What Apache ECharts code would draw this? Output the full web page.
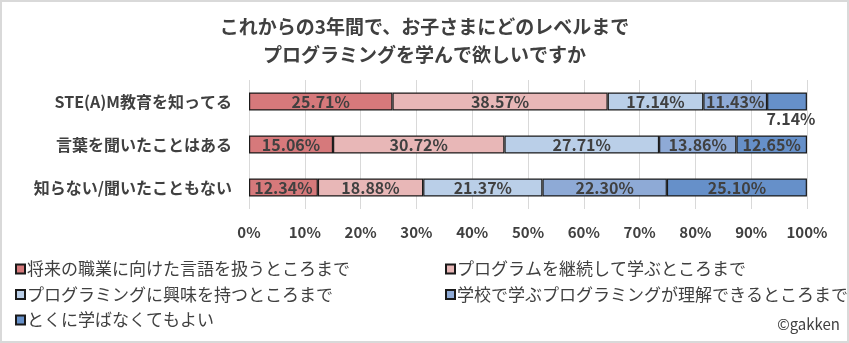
<!DOCTYPE html>
<html>
<head>
<meta charset="utf-8">
<script src="https://cdn.jsdelivr.net/npm/echarts@6/dist/echarts.min.js"></script>
<style>
html,body{margin:0;padding:0;background:#fff;}
#chart{width:849px;height:343px;}
</style>
</head>
<body>
<div id="chart"></div>
<script>
const titleText = 'これからの3年間で、お子さまにどのレベルまで\nプログラミングを学んで欲しいですか';
const categories = ['STE(A)M教育を知ってる', '言葉を聞いたことはある', '知らない/聞いたこともない'];
const seriesNames = [
  '将来の職業に向けた言語を扱うところまで',
  'プログラムを継続して学ぶところまで',
  'プログラミングに興味を持つところまで',
  '学校で学ぶプログラミングが理解できるところまで',
  'とくに学ばなくてもよい'
];
const s1 = [25.71, 15.06, 12.34];
const s2 = [38.57, 30.72, 18.88];
const s3 = [17.14, 27.71, 21.37];
const s4 = [11.43, 13.86, 22.30];
const s5 = [7.14, 12.65, 25.10];
const seriesValues = [s1, s2, s3, s4, s5];
const colors = ['#d6797b', '#e8b7b7', '#bacfe8', '#8eaad6', '#6690c9'];
const credit = '©gakken';

const FONT = '"Noto Sans CJK JP", "Noto Sans", sans-serif';
const TXT = '#404040';

const chart = echarts.init(document.getElementById('chart'), null, {renderer: 'canvas'});

const series = seriesValues.map((vals, i) => ({
  name: seriesNames[i],
  type: 'bar',
  stack: 'total',
  barWidth: 18,
  itemStyle: {color: colors[i], borderColor: '#1a1a1a', borderWidth: 1.2},
  label: {
    show: true,
    position: 'inside',
    color: TXT,
    fontFamily: FONT,
    fontWeight: 'bold',
    fontSize: 16,
    formatter: p => p.value.toFixed(2) + '%'
  },
  data: vals.map((v, j) => {
    if (i === 4 && j === 0) {
      return {value: v, label: {position: 'bottom', distance: 0, offset: [4, 0]}};
    }
    return v;
  }),
  emphasis: {disabled: true}
}));

const option = {
  animation: false,
  backgroundColor: '#fff',
  title: {
    text: titleText,
    left: 'center',
    top: 8,
    textStyle: {fontFamily: FONT, fontSize: 19, fontWeight: 'bold', color: TXT, lineHeight: 28}
  },
  grid: {left: 249, right: 42, top: 80, bottom: 134, containLabel: false},
  xAxis: {
    type: 'value',
    min: 0, max: 100, interval: 10,
    axisLine: {show: false},
    axisTick: {show: false},
    splitLine: {show: true, lineStyle: {color: '#d9d9d9', width: 1}},
    axisLabel: {formatter: '{value}%', color: TXT, fontFamily: FONT, fontWeight: 'bold', fontSize: 15, margin: 16}
  },
  yAxis: {
    type: 'category',
    inverse: true,
    data: categories,
    axisLine: {show: false},
    axisTick: {show: false},
    axisLabel: {color: TXT, fontFamily: FONT, fontWeight: 'bold', fontSize: 16, margin: 17}
  },
  legend: [
    {
      data: [seriesNames[0], seriesNames[2], seriesNames[4]],
      orient: 'vertical',
      left: 10, top: 255,
      icon: 'rect', itemWidth: 9, itemHeight: 9, itemGap: 7.5,
      textStyle: {color: TXT, fontFamily: FONT, fontSize: 17, lineHeight: 18, padding: [0, 0, 0, -3]},
      selectedMode: false
    },
    {
      data: [seriesNames[1], seriesNames[3]],
      orient: 'vertical',
      left: 440, top: 255,
      icon: 'rect', itemWidth: 9, itemHeight: 9, itemGap: 7.5,
      textStyle: {color: TXT, fontFamily: FONT, fontSize: 17, lineHeight: 18, padding: [0, 0, 0, -3]},
      selectedMode: false
    }
  ],
  graphic: [
    {type: 'rect', silent: true, shape: {x: 1, y: 1, width: 847, height: 341},
     style: {fill: 'none', stroke: '#d9d9d9', lineWidth: 2}},
    {type: 'text', right: 9, top: 317, silent: true,
     style: {text: credit, fill: TXT, font: '15px ' + FONT}}
  ],
  series: series
};
chart.setOption(option);
</script>
</body>
</html>
